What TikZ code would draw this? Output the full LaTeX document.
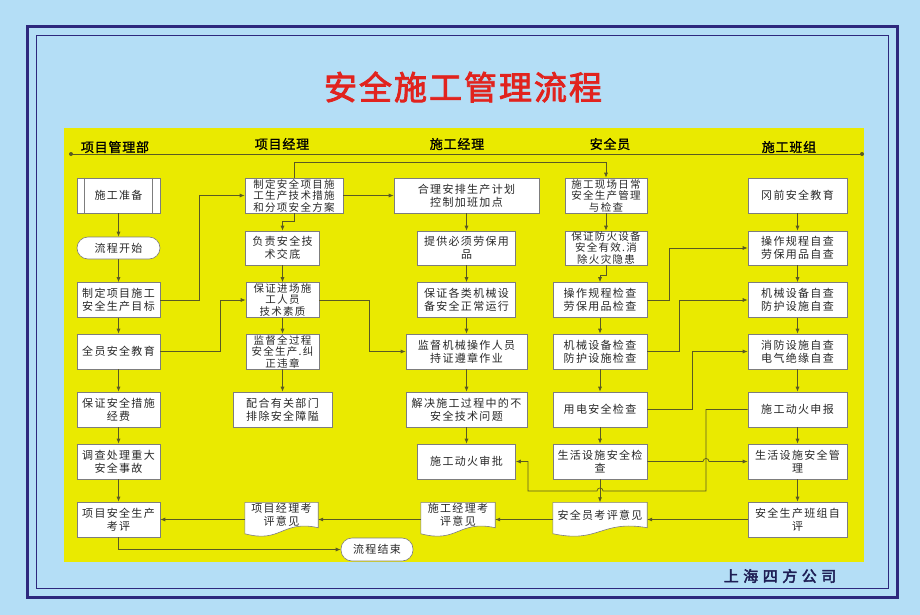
\documentclass[tikz,border=0pt]{standalone}
\usepackage{fontspec}
\newfontfamily\cjk[LetterSpace=12]{Noto Sans CJK SC}
\newfontfamily\cjkhead[FakeBold=1.2,LetterSpace=6]{Noto Sans CJK SC}
\newfontfamily\cjktitle[FakeBold=2.5,LetterSpace=6]{Noto Sans CJK SC}
\newfontfamily\cjkco[FakeBold=3,LetterSpace=30]{Noto Sans CJK SC}
\usetikzlibrary{arrows.meta}
\pgfdeclarelayer{bg}
\pgfdeclarelayer{shp}
\pgfsetlayers{bg,shp,main}
\definecolor{bgblue}{RGB}{180,222,246}
\definecolor{navy}{RGB}{45,40,125}
\definecolor{panel}{RGB}{234,234,0}
\definecolor{lineol}{RGB}{90,90,35}
\definecolor{boxgray}{RGB}{125,125,125}
\definecolor{txt}{RGB}{40,40,40}
\definecolor{titlered}{RGB}{225,35,30}
\definecolor{conavy}{RGB}{30,30,85}
\tikzset{
  box/.style={draw=boxgray, fill=white, line width=0.6pt, inner sep=0pt, align=center,
    font=\cjk\fontsize{11}{13}\selectfont, text=txt, minimum height=35pt},
  tri/.style={font=\cjk\fontsize{10.5}{11.5}\selectfont},
  docnode/.style={inner sep=0pt, minimum height=34pt},
  doctext/.style={inner sep=0pt, align=center, font=\cjk\fontsize{11}{13}\selectfont, text=txt},
  docline/.style={draw=boxgray, fill=white, line width=0.6pt},
  boxline/.style={draw=boxgray, line width=0.6pt},
  conn/.style={draw=lineol, line width=0.7pt, -{Latex[length=5pt,width=4pt]}},
  plain/.style={draw=lineol, line width=0.7pt},
  hdr/.style={font=\cjkhead\fontsize{13}{15}\selectfont, text=black, inner sep=0pt}
}
\newcommand\docshape[2]{%
  \path[docline] (#1.north west) -- (#1.north east) -- ([yshift=9pt]#1.south east)
    .. controls +(-#2*0.5,-8) and +(#2*0.5,10) .. ([yshift=3pt]#1.south west) -- cycle;}
\begin{document}
\begin{tikzpicture}[x=1pt,y=-1pt]
\useasboundingbox (0,0) rectangle (920,615);
\begin{pgfonlayer}{bg}
\fill[bgblue] (0,0) rectangle (920,615);
\draw[navy, line width=3pt] (27.5,27) rectangle (897.5,597);
\draw[navy, line width=0.9pt] (36.5,35.5) rectangle (888,588.5);
\fill[panel] (64,128) rectangle (864,562);
\end{pgfonlayer}

\node[font=\cjktitle\fontsize{33}{36}\selectfont, text=titlered, inner sep=0pt] (title) at (463,87) {安全施工管理流程};

% header
\coordinate (hl) at (71,154);
\coordinate (hr) at (862,154);
\draw[plain] (hl) -- (hr);
\fill[lineol] (hl) circle (2pt) (hr) circle (2pt);
\node[hdr] (h1) at (115,147) {项目管理部};
\node[hdr] (h2) at (282,144) {项目经理};
\node[hdr] (h3) at (457,144) {施工经理};
\node[hdr] (h4) at (610,144) {安全员};
\node[hdr] (h5) at (789,147) {施工班组};

% column 1
\node[box, minimum width=83pt] (prep) at (118.5,195.5) {施工准备};
\draw[boxline] ([xshift=8pt]prep.north west) -- ([xshift=8pt]prep.south west);
\draw[boxline] ([xshift=-8pt]prep.north east) -- ([xshift=-8pt]prep.south east);
\node[box, rounded corners=11pt, minimum width=83pt, minimum height=22pt] (start) at (118.5,248) {流程开始};
\node[box, minimum width=83pt] (c1a) at (118.5,300) {制定项目施工\\安全生产目标};
\node[box, minimum width=83pt] (c1b) at (118.5,351.5) {全员安全教育};
\node[box, minimum width=83pt] (c1c) at (118.5,409.5) {保证安全措施\\经费};
\node[box, minimum width=83pt] (c1d) at (118.5,461.5) {调查处理重大\\安全事故};
\node[box, minimum width=83pt] (c1e) at (118.5,519.5) {项目安全生产\\考评};
\node[box, rounded corners=11pt, minimum width=72pt, minimum height=23pt] (end) at (377,549.5) {流程结束};

% column 2
\node[box, tri, minimum width=98pt] (c2a) at (294,195.5) {制定安全项目施\\工生产技术措施\\和分项安全方案};
\node[box, minimum width=74pt, minimum height=34pt] (c2b) at (282.5,248) {负责安全技\\术交底};
\node[box, tri, minimum width=73pt] (c2c) at (282.5,300) {保证进场施\\工人员\\技术素质};
\node[box, tri, minimum width=73pt] (c2d) at (282.5,351.5) {监督全过程\\安全生产.纠\\正违章};
\node[box, minimum width=99pt] (c2e) at (282.5,409.5) {配合有关部门\\排除安全障隘};
\node[docnode, minimum width=73pt] (c2f) at (281.5,519.5) {};

% column 3
\node[box, minimum width=145pt] (c3a) at (466.5,195.5) {合理安排生产计划\\控制加班加点};
\node[box, minimum width=98pt, minimum height=34pt] (c3b) at (466.5,248) {提供必须劳保用\\品};
\node[box, minimum width=98pt] (c3c) at (466.5,300) {保证各类机械设\\备安全正常运行};
\node[box, minimum width=121pt] (c3d) at (466.5,351.5) {监督机械操作人员\\持证遵章作业};
\node[box, minimum width=121pt] (c3e) at (466.5,409.5) {解决施工过程中的不\\安全技术问题};
\node[box, minimum width=98pt] (c3f) at (466.5,461.5) {施工动火审批};
\node[docnode, minimum width=74pt] (c3g) at (458,519.5) {};

% column 4
\node[box, tri, minimum width=82pt] (c4a) at (606,195.5) {施工现场日常\\安全生产管理\\与检查};
\node[box, tri, minimum width=82pt, minimum height=34pt] (c4b) at (606,248) {保证防火设备\\安全有效.消\\除火灾隐患};
\node[box, minimum width=94pt] (c4c) at (600,300) {操作规程检查\\劳保用品检查};
\node[box, minimum width=94pt] (c4d) at (600,351.5) {机械设备检查\\防护设施检查};
\node[box, minimum width=94pt] (c4e) at (600,409.5) {用电安全检查};
\node[box, minimum width=94pt] (c4f) at (600,461.5) {生活设施安全检\\查};
\node[docnode, minimum width=94pt] (c4g) at (600,519.5) {};

% column 5
\node[box, minimum width=99pt] (c5a) at (797.5,195.5) {冈前安全教育};
\node[box, minimum width=99pt, minimum height=34pt] (c5b) at (797.5,248) {操作规程自查\\劳保用品自查};
\node[box, minimum width=99pt] (c5c) at (797.5,300) {机械设备自查\\防护设施自查};
\node[box, minimum width=99pt] (c5d) at (797.5,351.5) {消防设施自查\\电气绝缘自查};
\node[box, minimum width=99pt] (c5e) at (797.5,409.5) {施工动火申报};
\node[box, minimum width=99pt] (c5f) at (797.5,461.5) {生活设施安全管\\理};
\node[box, minimum width=99pt] (c5g) at (797.5,519.5) {安全生产班组自\\评};

% document shapes
\begin{pgfonlayer}{shp}
\docshape{c2f}{73}
\docshape{c3g}{74}
\docshape{c4g}{94}
\end{pgfonlayer}
\node[doctext] (c2ft) at ([yshift=5pt]c2f.center) {项目经理考\\评意见};
\node[doctext] (c3gt) at ([yshift=5pt]c3g.center) {施工经理考\\评意见};
\node[doctext] (c4gt) at ([yshift=4pt]c4g.center) {安全员考评意见};

% company
\node[font=\cjkco\fontsize{15}{17}\selectfont, text=conavy, inner sep=0pt] (co) at (780,576) {上海四方公司};

% column 1 flow
\draw[conn] (prep) -- (start);
\draw[conn] (start) -- (c1a);
\draw[conn] (c1a) -- (c1b);
\draw[conn] (c1b) -- (c1c);
\draw[conn] (c1c) -- (c1d);
\draw[conn] (c1d) -- (c1e);
\draw[conn] (c1e.south) |- (end.west);

% column 2 flow
\draw[conn] (c2a.south) -- ++(0,8) -| (c2b.north);
\draw[conn] (c2b) -- (c2c);
\draw[conn] (c2c) -- (c2d);
\draw[conn] (c2d) -- (c2e);

% column 3 flow
\draw[conn] (c3a) -- (c3b);
\draw[conn] (c3b) -- (c3c);
\draw[conn] (c3c) -- (c3d);
\draw[conn] (c3d) -- (c3e);
\draw[conn] (c3e) -- (c3f);

% column 4 flow
\draw[conn] (c4a) -- (c4b);
\draw[conn] (c4b.south) -- ++(0,10) -| (c4c.north);
\draw[conn] (c4c) -- (c4d);
\draw[conn] (c4d) -- (c4e);
\draw[conn] (c4e) -- (c4f);
\draw[conn] (c4f) -- (c4g);

% column 5 flow
\draw[conn] (c5a) -- (c5b);
\draw[conn] (c5b) -- (c5c);
\draw[conn] (c5c) -- (c5d);
\draw[conn] (c5d) -- (c5e);
\draw[conn] (c5e) -- (c5f);
\draw[conn] (c5f) -- (c5g);

% cross links
\draw[conn] (c1a.east) -- ++(39,0) |- (c2a.west);
\draw[conn] (c1b.east) -- ++(60,0) |- (c2c.west);
\draw[conn] (c2c.east) -- ++(50,0) |- (c3d.west);
\draw[conn] (c2a) -- (c3a);
\draw[conn] (c2a.north) -- ++(0,-15) -| (c4a.north);
\draw[conn] (c4c.east) -- ++(22,0) |- (c5b.west);
\draw[conn] (c4d.east) -- ++(32,0) |- (c5c.west);
\draw[conn] (c4e.east) -- ++(45,0) |- (c5d.west);
\draw[conn] (c4f.east) -- (703,461.5) .. controls (703,457.5) and (709,457.5) .. (709,461.5) -- (c5f.west);
\coordinate (j1) at (706,491);
\coordinate (j2) at (528,491);
\draw[conn] (c5e.west) -| (j1) -- (603,491) .. controls (603,487) and (597,487) .. (597,491) -- (j2) |- (c3f.east);

% bottom row
\draw[conn] (c5g.west) -- (c4g.east);
\draw[conn] (c4g.west) -- (c3g.east);
\draw[conn] (c3g.west) -- (c2f.east);
\draw[conn] (c2f.west) -- (c1e.east);
\end{tikzpicture}
\end{document}
